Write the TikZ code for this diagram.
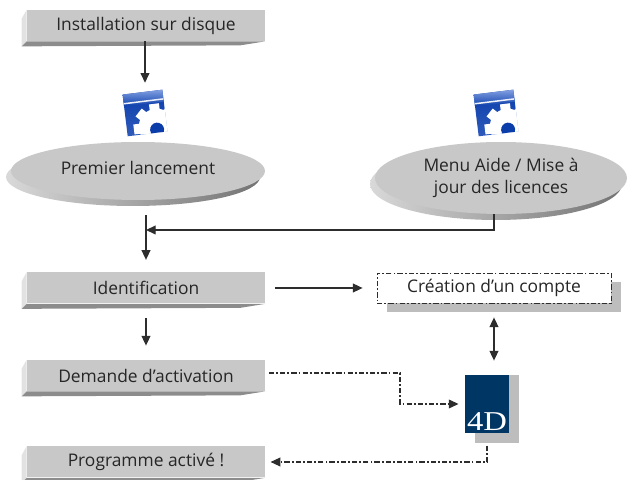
\documentclass[tikz,border=0pt]{standalone}
\usepackage{fontspec}
\setmainfont{Open Sans}
\newfontfamily\logofont{Liberation Serif}
\usetikzlibrary{shapes.geometric,arrows.meta,positioning,calc,shadows}
\definecolor{facegray}{RGB}{200,200,200}
\definecolor{bevellight}{RGB}{226,226,226}
\definecolor{beveldark}{RGB}{140,140,140}
\definecolor{castgray}{RGB}{189,189,189}
\definecolor{linegray}{RGB}{45,45,45}
\definecolor{logoblue}{RGB}{0,54,100}
\definecolor{icondark}{RGB}{10,60,170}
\definecolor{iconlight}{RGB}{130,160,225}

% bevelled edges around a stepbox node
\newcommand{\bevel}[1]{
    \fill[bevellight] (#1.north west) -- (#1.south west) -- ($(#1.south west)+(-5,-5)$) -- ($(#1.north west)+(-5,-9)$) -- cycle;
    \fill[beveldark] (#1.south west) -- ($(#1.south west)+(-5,-5)$) -- ($(#1.south east)+(-25,-4)$) -- (#1.south east) -- cycle;
}

\begin{document}
\begin{tikzpicture}[
    x=0.02cm, y=0.02cm,
    stepbox/.style={rectangle, fill=facegray, minimum width=4.76cm, minimum height=0.62cm, inner sep=0pt, font=\fontsize{9.9}{11}\selectfont, text=black!85},
    stepoval/.style={ellipse, fill=facegray, inner sep=0pt, align=center, font=\fontsize{9.9}{12.5}\selectfont, text=black!85,
        general shadow={shadow xshift=-0.1cm, shadow yshift=-0.12cm, left color=black!15, right color=black!55}},
    accountbox/.style={rectangle, draw=linegray, fill=white, dash pattern=on 3pt off 1.2pt on 1pt off 1.2pt, minimum width=4.68cm, minimum height=0.6cm, inner sep=0pt, font=\fontsize{9.9}{11}\selectfont, text=black!85},
    logobox/.style={rectangle, fill=logoblue, minimum width=0.88cm, minimum height=1.16cm, inner sep=0pt},
    flow/.style={-{Triangle[width=5pt,length=5.5pt]}, draw=linegray, line width=0.75pt},
    webflow/.style={flow, dash pattern=on 3pt off 1.2pt on 1pt off 1.2pt, line width=0.6pt},
    pics/setupicon/.style={code={
        \begin{scope}[rotate=7]
            \node[rectangle, fill=white, minimum width=0.86cm, minimum height=0.88cm, inner sep=0pt] (-frame) at (0,0) {};
            \begin{scope}
                \clip (-20,-21) rectangle (20,21);
                \shade[top color=icondark, bottom color=icondark!70!iconlight] (-20,-21) rectangle (20,21);
                \shade[top color=iconlight, bottom color=icondark] (-20,9) rectangle (20,21);
                \fill[white!85!iconlight] (-20,11) rectangle (20,12.5);
                % gear with teeth
                \foreach \ang in {0,45,...,315} {
                    \fill[white, rotate around={\ang:(10,-15)}] (5,-15) rectangle (15,8);
                }
                \fill[white] (10,-15) circle (18);
                \fill[icondark] (10,-18) circle (7);
            \end{scope}
        \end{scope}
    }}
]
\useasboundingbox (0,0) rectangle (627,480);

% left column
\node[stepbox] (install) at (146,454.5) {Installation sur disque};
\bevel{install}
\pic (iconleft) at (145,367) {setupicon};
\node[stepoval, minimum width=5.08cm, minimum height=1.16cm] (premier) at (138,309) {\raisebox{3.4pt}{Premier lancement}};
\node[stepbox] (ident) at (146,192) {Identification};
\bevel{ident}
\node[stepbox] (demande) at (146,104.5) {Demande d'activation};
\bevel{demande}
\node[stepbox] (actif) at (146,18) {\raisebox{-1.7pt}{Programme activé !}};
\bevel{actif}

% right column
\pic (iconright) at (496,367) {setupicon};
\node[stepoval, minimum width=5.04cm, minimum height=1.44cm] (menu) at (501,302) {Menu Aide / Mise à\\jour des licences};
\fill[castgray] (387,168) rectangle (621,198);
\node[accountbox] (compte) at (494,192) {Création d'un compte};
\fill[castgray] (475,37) rectangle (519,105);
\node[logobox] (logo) at (487,76) {};
\node[text=white, inner sep=0pt, xscale=1.2, font=\logofont\fontsize{15.5}{16}\selectfont, above=1.5pt of logo.south] (logotext) {4D};

% free ends of the connectors
\coordinate (joinid) at (ident.north |- 0,250);
\coordinate (bendweb) at (400,107);

% connectors
\draw[flow, shorten >=4.5pt] (install.south -| iconleft-frame.north) -- (iconleft-frame.north);
\draw[flow, shorten <=8.5pt, shorten >=7pt] (ident.north |- premier.south) -- (ident.north);
\draw[flow] ($(menu.south)+(-7,0)$) |- (joinid);
\draw[flow, shorten <=8pt, shorten >=8pt] (ident.south) -- (demande.north);
\draw[flow, shorten <=5.5pt, shorten >=8pt] (ident.east) -- (compte.west);
\draw[flow, {Triangle[width=5pt,length=5.5pt]}-{Triangle[width=5pt,length=5.5pt]}, shorten <=8pt, shorten >=8pt] (compte.south) -- (compte.south |- logo.north);
\draw[webflow, shorten <=2pt, shorten >=3.5pt] (demande.east |- bendweb) -- (bendweb) |- (logo.west);
\draw[webflow, shorten <=7pt, shorten >=3pt] (logo.south) |- (actif.east);

\end{tikzpicture}
\end{document}
